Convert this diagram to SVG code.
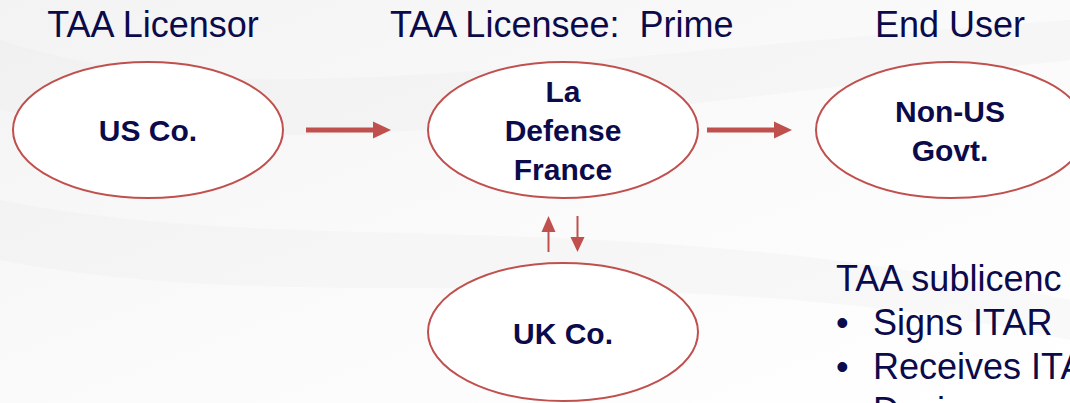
<svg xmlns="http://www.w3.org/2000/svg" width="1070" height="403" viewBox="0 0 1070 403">
  <defs>
    <style>
      .title { font-family: "Liberation Sans", Arial, sans-serif; font-size: 36px; fill: #0b0b4b; white-space: pre; }
      .lbl { font-family: "Liberation Sans", Arial, sans-serif; font-size: 30px; font-weight: bold; fill: #0b0b4b; text-anchor: middle; }
      .node { fill: #ffffff; stroke: #c0504d; stroke-width: 2; }
      .arrow { fill: #c0504d; }
      .swoosh { fill: #e4e4e4; opacity: 0.2; }
    </style>
    <linearGradient id="bg" x1="0" y1="0" x2="1" y2="1">
      <stop offset="0" stop-color="#f3f3f3"/>
      <stop offset="0.5" stop-color="#fafafa"/>
      <stop offset="1" stop-color="#ffffff"/>
    </linearGradient>
  </defs>
  <rect x="0" y="0" width="1070" height="403" fill="url(#bg)"/>
  <g id="background">
    <path class="swoosh" d="M0 40 C 250 120, 500 60, 1070 20 L1070 60 C 600 110, 300 170, 0 110 Z"/>
    <path class="swoosh" d="M0 200 C 300 260, 600 200, 1070 300 L1070 340 C 650 250, 300 320, 0 260 Z"/>
  </g>

  <g id="titles">
    <text class="title" x="153" y="37" text-anchor="middle">TAA Licensor</text>
    <text class="title" x="390" y="37">TAA Licensee:  Prime</text>
    <text class="title" x="950" y="37" text-anchor="middle">End User</text>
  </g>

  <g id="connectors">
    <polygon class="arrow" points="306,127.5 373,127.5 373,121.5 391,130 373,138.5 373,132.5 306,132.5"/>
    <polygon class="arrow" points="707,127.5 774,127.5 774,121.5 792,130 774,138.5 774,132.5 707,132.5"/>
    <polygon class="arrow" points="547.5,252 547.5,232 541.5,232 548.5,216 555.5,232 549.5,232 549.5,252"/>
    <polygon class="arrow" points="576.5,216 576.5,237 570.5,237 577.5,252 584.5,237 578.5,237 578.5,216"/>
  </g>

  <g id="node-us">
    <ellipse class="node" cx="148" cy="130" rx="135" ry="68"/>
    <text class="lbl" x="148" y="141">US Co.</text>
  </g>

  <g id="node-france">
    <ellipse class="node" cx="563" cy="130" rx="135" ry="68"/>
    <text class="lbl" x="563" y="102">La</text>
    <text class="lbl" x="563" y="141">Defense</text>
    <text class="lbl" x="563" y="180">France</text>
  </g>

  <g id="node-govt">
    <ellipse class="node" cx="951" cy="130" rx="135" ry="68"/>
    <text class="lbl" x="950" y="122">Non-US</text>
    <text class="lbl" x="950" y="161">Govt.</text>
  </g>

  <g id="node-uk">
    <ellipse class="node" cx="563" cy="332" rx="135" ry="69"/>
    <text class="lbl" x="563" y="344">UK Co.</text>
  </g>

  <g id="sublicensee-text">
    <text class="title" x="836" y="291">TAA sublicenc</text>
    <text class="title" x="836" y="335">•</text>
    <text class="title" x="873" y="335">Signs ITAR</text>
    <text class="title" x="836" y="379">•</text>
    <text class="title" x="873" y="379">Receives ITA</text>
    <text class="title" x="873" y="423">Desi</text>
  </g>
</svg>
